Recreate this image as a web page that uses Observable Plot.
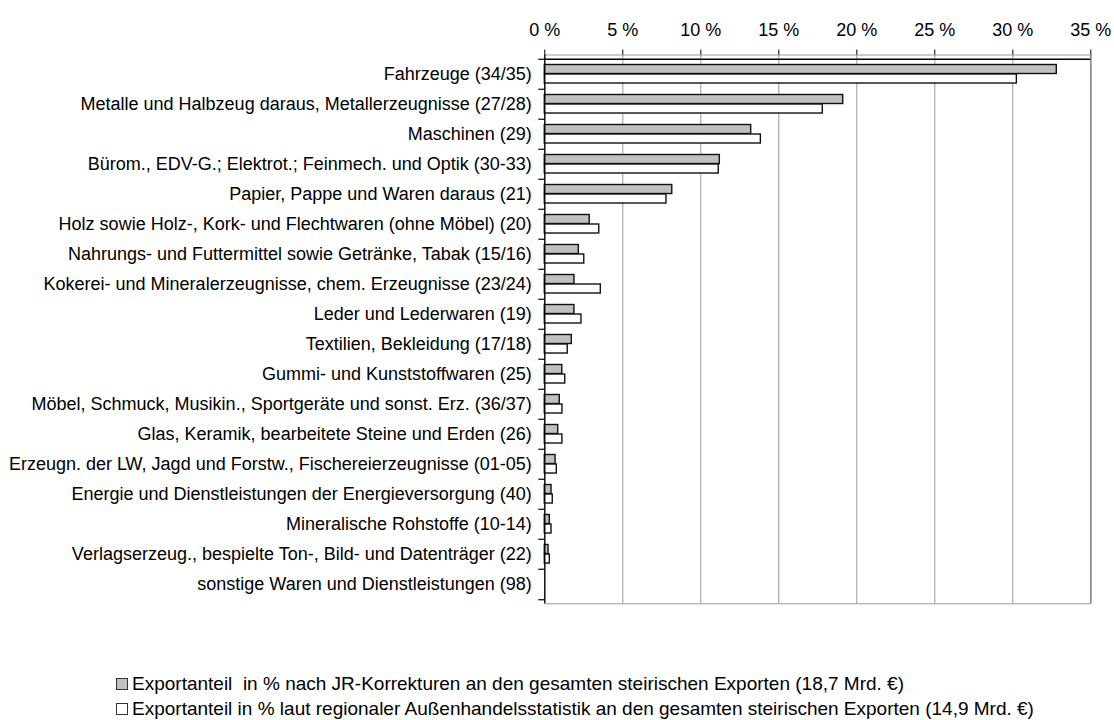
<!DOCTYPE html>
<html>
<head>
<meta charset="utf-8">
<script src="https://cdn.jsdelivr.net/npm/d3@7"></script>
<script src="https://cdn.jsdelivr.net/npm/@observablehq/plot@0.6"></script>
<style>
  html, body { margin: 0; padding: 0; background: #fff; overflow: hidden; }
  #chart svg { display: block; }
  .legend { font-family: "Liberation Sans", Arial, sans-serif; font-size: 19px; color: #000; padding-left: 116px; padding-top: 6px; line-height: 25px; white-space: pre; }
  .legend .sw { display: inline-block; width: 10px; height: 10px; border: 1px solid #333; margin-right: 4px; vertical-align: 0px; }
</style>
</head>
<body>
<div id="chart"></div>
<script>
const categories = [
  "Fahrzeuge (34/35)",
  "Metalle und Halbzeug daraus, Metallerzeugnisse (27/28)",
  "Maschinen (29)",
  "Bürom., EDV-G.; Elektrot.; Feinmech. und Optik (30-33)",
  "Papier, Pappe und Waren daraus (21)",
  "Holz sowie Holz-, Kork- und Flechtwaren (ohne Möbel) (20)",
  "Nahrungs- und Futtermittel sowie Getränke, Tabak (15/16)",
  "Kokerei- und Mineralerzeugnisse, chem. Erzeugnisse (23/24)",
  "Leder und Lederwaren (19)",
  "Textilien, Bekleidung (17/18)",
  "Gummi- und Kunststoffwaren (25)",
  "Möbel, Schmuck, Musikin., Sportgeräte und sonst. Erz. (36/37)",
  "Glas, Keramik, bearbeitete Steine und Erden (26)",
  "Erzeugn. der LW, Jagd und Forstw., Fischereierzeugnisse (01-05)",
  "Energie und Dienstleistungen der Energieversorgung (40)",
  "Mineralische Rohstoffe (10-14)",
  "Verlagserzeug., bespielte Ton-, Bild- und Datenträger (22)",
  "sonstige Waren und Dienstleistungen (98)"
];
const exportJR   = [32.82, 19.13, 13.23, 11.22, 8.17, 2.88, 2.18, 1.90, 1.90, 1.73, 1.12, 0.96, 0.86, 0.69, 0.43, 0.32, 0.24, 0];
const exportStat = [30.26, 17.82, 13.85, 11.15, 7.80, 3.49, 2.53, 3.59, 2.35, 1.47, 1.31, 1.13, 1.13, 0.77, 0.51, 0.43, 0.32, 0];
const xTicks = [0, 5, 10, 15, 20, 25, 30, 35];
const legendLabels = [
  "Exportanteil  in % nach JR-Korrekturen an den gesamten steirischen Exporten (18,7 Mrd. €)",
  "Exportanteil in % laut regionaler Außenhandelsstatistik an den gesamten steirischen Exporten (14,9 Mrd. €)"
];

const rows = categories.map((c, i) => ({cat: c, jr: exportJR[i], stat: exportStat[i]}));

const W = 1114, H = 665, mT = 54.5, mB = 61.7, mL = 544.3, mR = 23.7;
const bw = (H - mT - mB) / categories.length;

const chart = Plot.plot({
  width: W, height: H,
  marginTop: mT, marginBottom: mB, marginLeft: mL, marginRight: mR,
  style: {fontFamily: "'Liberation Sans', Arial, sans-serif", fontSize: "18px", color: "#000", background: "#fff"},
  x: {domain: [0, 35], axis: "top", ticks: xTicks, tickFormat: d => d + " %", tickSize: 6, tickPadding: 13, label: null},
  y: {domain: categories, padding: 0, tickSize: 0, tickPadding: 13, label: null},
  marks: [
    Plot.ruleX(xTicks.filter(t => t > 0 && t < 35), {stroke: "#999", strokeWidth: 1}),
    Plot.frame({stroke: "#999", strokeWidth: 1}),
    Plot.ruleX([35], {stroke: "#888", strokeWidth: 1.5}),
    Plot.barX(rows, {x: "jr", y: "cat", fill: "#c0c0c0", stroke: "#111", strokeWidth: 1.4, insetTop: 5.5, insetBottom: bw - 15}),
    Plot.barX(rows, {x: "stat", y: "cat", fill: "#fff", stroke: "#111", strokeWidth: 1.4, insetTop: 15, insetBottom: bw - 24.5}),
    Plot.ruleX([0], {stroke: "#000", strokeWidth: 1.3}),
    Plot.ruleY([categories[0]], {dy: -bw / 2, stroke: "#000", strokeWidth: 1.3}),
    Plot.ruleY(categories, {y: d => d, dy: -bw / 2, x1: 0, x2: 0, insetLeft: -6, stroke: "#000", strokeWidth: 1.2}),
    Plot.ruleY([categories[categories.length - 1]], {dy: bw / 2, x1: 0, x2: 0, insetLeft: -6, stroke: "#000", strokeWidth: 1.2})
  ]
});
document.getElementById("chart").appendChild(chart);

const legend = document.createElement("div");
legend.className = "legend";
const fills = ["#c0c0c0", "#fff"];
legendLabels.forEach((t, i) => {
  const row = document.createElement("div");
  const sw = document.createElement("span");
  sw.className = "sw";
  sw.style.background = fills[i];
  row.appendChild(sw);
  row.appendChild(document.createTextNode(t));
  legend.appendChild(row);
});
document.body.appendChild(legend);
</script>
</body>
</html>
